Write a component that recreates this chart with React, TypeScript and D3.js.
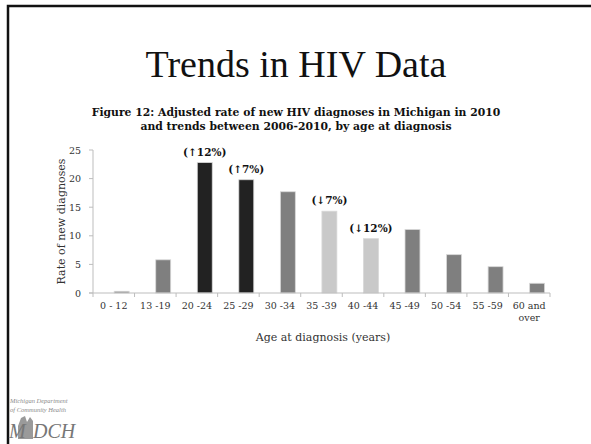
import { useEffect, useRef } from 'react';
import * as d3 from 'd3';

const ageGroups = ['0 - 12', '13 -19', '20 -24', '25 -29', '30 -34', '35 -39', '40 -44', '45 -49', '50 -54', '55 -59', '60 and|over'];
const rates = [0.3, 5.8, 22.8, 19.8, 17.7, 14.3, 9.5, 11.1, 6.7, 4.6, 1.7];
// trend 2006-2010: 'up' | 'down' | 'flat'
const trends = ['flat', 'flat', 'up', 'up', 'flat', 'down', 'down', 'flat', 'flat', 'flat', 'flat'];
const trendLabels = ['', '', '(\u219112%)', '(\u21917%)', '', '(\u21937%)', '(\u219312%)', '', '', '', ''];
const yTicks = [0, 5, 10, 15, 20, 25];

const titleFont = "'Liberation Serif', serif";
const serif = "'DejaVu Serif', serif";

export default function App() {
    const svgRef = useRef<SVGSVGElement>(null);

    useEffect(() => {
        if (!svgRef.current) return;
        const svg = d3.select(svgRef.current);
        svg.selectAll('*').remove();

        const width = 591;
        const height = 444;

        // Slide frame (left + top edges visible)
        svg.append('rect').attr('width', width).attr('height', height).attr('fill', '#fff');
        svg.append('path')
            .attr('d', `M8,${height} L8,6 L${width},6`)
            .attr('fill', 'none')
            .attr('stroke', '#111')
            .attr('stroke-width', 2.5);

        // Slide title
        svg.append('text')
            .attr('x', 296).attr('y', 77)
            .attr('text-anchor', 'middle')
            .attr('font-family', titleFont)
            .attr('font-size', 38)
            .attr('fill', '#111')
            .text('Trends in HIV Data');

        // Figure caption
        const cap = svg.append('text')
            .attr('text-anchor', 'middle')
            .attr('font-family', serif)
            .attr('font-weight', 'bold')
            .attr('font-size', 10.8)
            .attr('fill', '#111');
        cap.append('tspan').attr('x', 296).attr('y', 116)
            .text('Figure 12: Adjusted rate of new HIV diagnoses in Michigan in 2010');
        cap.append('tspan').attr('x', 296).attr('y', 130)
            .text('and trends between 2006-2010, by age at diagnosis');

        // --- Chart ---
        const x0 = 93, x1 = 550, yTop = 150, yBottom = 293;
        const x = d3.scaleBand().domain(ageGroups).range([x0, x1]).padding(0);
        const y = d3.scaleLinear().domain([0, 25]).range([yBottom, yTop]);
        const axisColor = '#bdbdbd';
        const tickColor = '#333';

        const fillFor = (t: string) => t === 'up' ? '#222222' : t === 'down' ? '#c9c9c9' : '#7f7f7f';

        // y axis
        svg.append('line')
            .attr('x1', x0).attr('x2', x0)
            .attr('y1', y(25)).attr('y2', y(0))
            .attr('stroke', axisColor).attr('stroke-width', 1);
        yTicks.forEach(v => {
            svg.append('line')
                .attr('x1', x0 - 4).attr('x2', x0)
                .attr('y1', y(v)).attr('y2', y(v))
                .attr('stroke', axisColor);
            svg.append('text')
                .attr('x', x0 - 12).attr('y', y(v) + 3.5)
                .attr('text-anchor', 'end')
                .attr('font-family', serif)
                .attr('font-size', 9.5)
                .attr('fill', tickColor)
                .text(v);
        });

        // y axis title
        svg.append('text')
            .attr('transform', `translate(65,${(yTop + yBottom) / 2}) rotate(-90)`)
            .attr('text-anchor', 'middle')
            .attr('font-family', serif)
            .attr('font-size', 11)
            .attr('fill', tickColor)
            .text('Rate of new diagnoses');

        // bars
        const bw = x.bandwidth();
        svg.selectAll('rect.bar')
            .data(ageGroups)
            .enter()
            .append('rect')
            .attr('class', 'bar')
            .attr('x', d => (x(d) as number) + bw * 0.51)
            .attr('width', bw * 0.36)
            .attr('y', (_d, i) => y(rates[i]))
            .attr('height', (_d, i) => yBottom - y(rates[i]))
            .attr('fill', (_d, i) => fillFor(trends[i]))
            .attr('stroke', '#d8d8d8')
            .attr('stroke-width', 0.8);

        // trend labels
        ageGroups.forEach((d, i) => {
            if (!trendLabels[i]) return;
            svg.append('text')
                .attr('x', (x(d) as number) + bw * 0.69)
                .attr('y', y(rates[i]) - 7)
                .attr('text-anchor', 'middle')
                .attr('font-family', serif)
                .attr('font-weight', 'bold')
                .attr('font-size', 10.5)
                .attr('fill', '#111')
                .text(trendLabels[i]);
        });

        // x axis
        svg.append('line')
            .attr('x1', x0 - 4).attr('x2', x1)
            .attr('y1', yBottom).attr('y2', yBottom)
            .attr('stroke', axisColor);
        [...ageGroups.map(d => x(d) as number), x1].forEach(px => {
            svg.append('line')
                .attr('x1', px).attr('x2', px)
                .attr('y1', yBottom).attr('y2', yBottom + 4)
                .attr('stroke', axisColor);
        });
        ageGroups.forEach(d => {
            const lines = d.split('|');
            const t = svg.append('text')
                .attr('text-anchor', 'middle')
                .attr('font-family', serif)
                .attr('font-size', 9.5)
                .attr('fill', tickColor);
            lines.forEach((ln, j) => {
                t.append('tspan')
                    .attr('x', (x(d) as number) + bw / 2)
                    .attr('y', 309 + j * 12)
                    .text(ln);
            });
        });

        // x axis title
        svg.append('text')
            .attr('x', 323).attr('y', 341)
            .attr('text-anchor', 'middle')
            .attr('font-family', serif)
            .attr('font-size', 11)
            .attr('fill', tickColor)
            .text('Age at diagnosis (years)');

        // MDCH logo
        const logo = svg.append('g').attr('fill', '#8a8a8a').attr('font-family', titleFont).attr('font-style', 'italic');
        logo.append('text').attr('x', 10).attr('y', 403).attr('font-size', 6.5).text('Michigan Department');
        logo.append('text').attr('x', 10).attr('y', 412).attr('font-size', 6.5).text('of Community Health');
        logo.append('path')
            .attr('d', 'M18,439 L18,426 L21,418 L25,416 L27,422 L30,417 L33,421 L33,439 Z')
            .attr('fill', '#9a9a9a');
        logo.append('text').attr('x', 9).attr('y', 438).attr('font-size', 20).attr('fill', '#777').text('M');
        logo.append('text').attr('x', 33).attr('y', 438).attr('font-size', 20).attr('fill', '#777').text('DCH');
    }, []);

    return (
        <svg ref={svgRef} width={591} height={444} style={{ position: 'absolute', left: 0, top: 0 }} />
    );
}
